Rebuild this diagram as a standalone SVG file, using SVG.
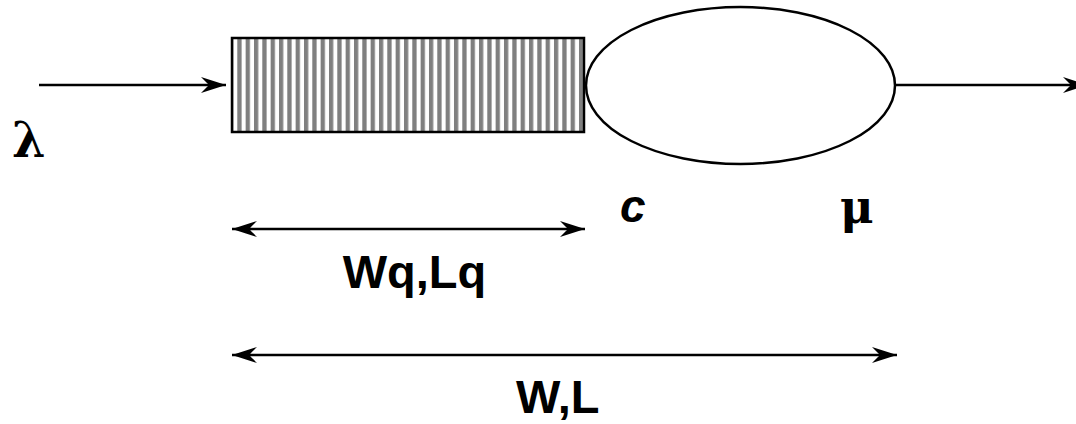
<svg xmlns="http://www.w3.org/2000/svg" width="1076" height="424" viewBox="0 0 1076 424">
  <style>
    .edge { stroke: #000; stroke-width: 2.5; fill: none; }
    .shape { stroke: #000; stroke-width: 2.5; }
    .label { font-family: "Liberation Sans", Arial, sans-serif; font-weight: bold; fill: #000; }
    .greek { font-family: "DejaVu Serif", "Liberation Serif", serif; font-weight: bold; fill: #000; }
  </style>
  <defs>
    <!-- vertical grey hatching of the waiting line -->
    <pattern id="stripes" patternUnits="userSpaceOnUse" x="237.3" y="0" width="8.333" height="10">
      <rect x="0" y="0" width="4.3" height="10" fill="#808080"/>
    </pattern>
    <!-- barbed arrowhead, tip at the end point of the line -->
    <marker id="head" markerUnits="userSpaceOnUse" viewBox="-26 -9 28 18" refX="0" refY="0"
            markerWidth="28" markerHeight="18" orient="auto-start-reverse">
      <path d="M0,0 L-25,-8 Q-19,-2 -17,0 Q-19,2 -25,8 Z" fill="#000"/>
    </marker>
  </defs>

  <!-- connectors -->
  <g id="connectors">
    <line class="edge" x1="39" y1="85" x2="226" y2="85" marker-end="url(#head)"/>
    <line class="edge" x1="895" y1="85" x2="1088" y2="85" marker-end="url(#head)"/>
    <line class="edge" x1="232" y1="229" x2="585" y2="229" marker-start="url(#head)" marker-end="url(#head)"/>
    <line class="edge" x1="232" y1="355" x2="897" y2="355" marker-start="url(#head)" marker-end="url(#head)"/>
  </g>

  <!-- queue buffer -->
  <g id="queue">
    <rect x="232" y="38" width="352" height="94" fill="#fff"/>
    <rect class="shape" x="232" y="38" width="352" height="94" fill="url(#stripes)"/>
  </g>

  <!-- service station -->
  <g id="server">
    <ellipse class="shape" cx="740.5" cy="85.5" rx="154.5" ry="78.5" fill="#fff"/>
  </g>

  <!-- symbols and labels -->
  <g id="lambda"><text class="greek" x="12" y="157" font-size="48">λ</text></g>
  <g id="servers"><text class="label" x="620" y="222" font-size="46" font-style="italic">c</text></g>
  <g id="mu"><text class="greek" x="840" y="223" font-size="46">μ</text></g>
  <g id="queue-measures"><text class="label" x="414.5" y="288" font-size="47" text-anchor="middle">Wq,Lq</text></g>
  <g id="system-measures"><text class="label" x="516" y="413" font-size="47">W,L</text></g>
</svg>
